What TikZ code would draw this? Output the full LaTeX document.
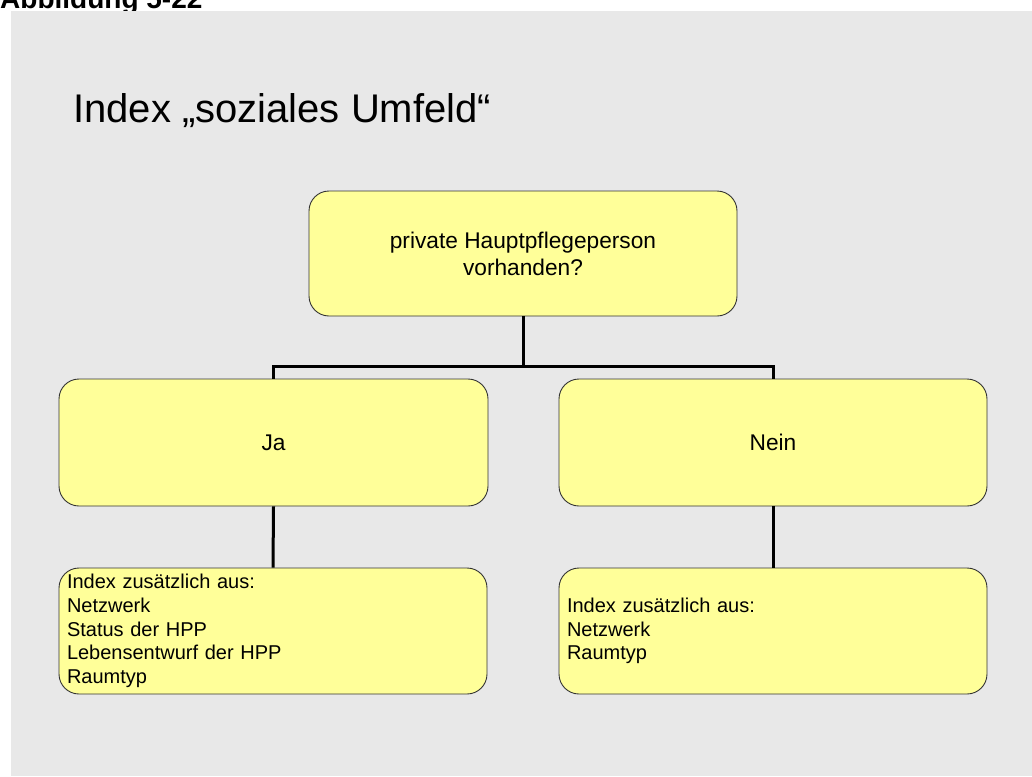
\documentclass[tikz,border=0pt]{standalone}
\usepackage{fontspec}
\setmainfont{Liberation Sans}
\definecolor{bggrey}{HTML}{E8E8E8}
\definecolor{boxyellow}{HTML}{FFFF99}
\definecolor{boxline}{HTML}{333333}
\begin{document}
\begin{tikzpicture}[x=1pt,y=-1pt,
  box/.style={draw=boxline,line width=0.9pt,fill=boxyellow,rounded corners=20pt,
    minimum width=428pt,minimum height=126pt,inner sep=0pt,align=center,
    font=\fontsize{22.7}{27}\selectfont},
  listbox/.style={box,align=left,text width=412pt,inner xsep=8pt,
    font=\fontsize{20}{23.7}\selectfont},
  conn/.style={draw=black,line width=3pt}]
\useasboundingbox (0,0) rectangle (1032,776);
\node[anchor=base west,inner sep=0pt,font=\bfseries\fontsize{28}{32}\selectfont] (fig) at (0,9) {Abbildung 5-22};
\fill[bggrey] (11,11) rectangle (1032,776);
\node[anchor=base west,inner sep=0pt,font=\fontsize{40}{48}\selectfont] (title) at (73,122) {Index „soziales Umfeld“};
\node[box,minimum height=125pt] (top) at (523,253.5) {private Hauptpflegeperson\\vorhanden?};
\node[box,minimum height=127pt,minimum width=429pt] (ja) at (273.5,442.5) {Ja};
\node[box,minimum height=127pt] (nein) at (773,442.5) {Nein};
\node[listbox] (jad) at (273,631) {Index zusätzlich aus:\\Netzwerk\\Status der HPP\\Lebensentwurf der HPP\\Raumtyp};
\node[listbox] (neind) at (773,631) {Index zusätzlich aus:\\Netzwerk\\Raumtyp};
\coordinate (bar) at (0,366);
\draw[conn] (top.south) -- (top.south |- bar);
\draw[conn] (ja.north) |- (nein.north |- bar) -- (nein.north);
\draw[conn] (ja.south) -- (jad.north);
\draw[conn] (nein.south) -- (neind.north);
\end{tikzpicture}
\end{document}
